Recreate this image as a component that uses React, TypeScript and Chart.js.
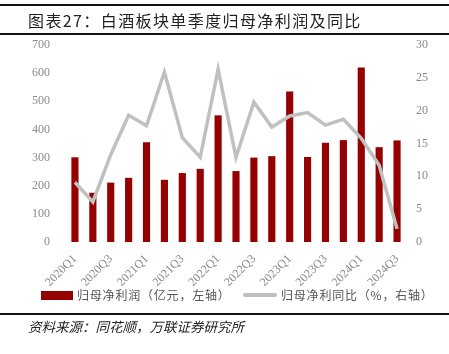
import React, { useEffect, useRef } from "react";
import { Chart, registerables } from "chart.js";

Chart.register(...registerables);

const quarters = [
  "2020Q1", "2020Q2", "2020Q3", "2020Q4",
  "2021Q1", "2021Q2", "2021Q3", "2021Q4",
  "2022Q1", "2022Q2", "2022Q3", "2022Q4",
  "2023Q1", "2023Q2", "2023Q3", "2023Q4",
  "2024Q1", "2024Q2", "2024Q3",
];
const netProfit = [301, 175, 211, 228, 354, 221, 245, 260, 450, 252, 300, 305, 535, 302, 353, 362, 620, 337, 361];
const yoyGrowth = [9.1, 6.1, 13.3, 19.3, 17.7, 25.9, 15.9, 12.9, 26.3, 12.9, 21.3, 17.5, 19.2, 19.7, 17.8, 18.7, 15.8, 11.7, 2.0];
const leftTicks = [0, 100, 200, 300, 400, 500, 600, 700];
const rightTicks = [0, 5, 10, 15, 20, 25, 30];

const titleText = "图表27：白酒板块单季度归母净利润及同比";
const barLabel = "归母净利润（亿元，左轴）";
const lineLabel = "归母净利同比（%，右轴）";
const sourceText = "资料来源：同花顺，万联证券研究所";

const BAR_COLOR = "#950000";
const LINE_COLOR = "#c0c0c0";
const TICK_COLOR = "#8a8a8a";
const TICK_FONT = { family: "'Liberation Serif', 'DejaVu Serif', serif", size: 12 };

export default function App() {
  const ref = useRef<HTMLCanvasElement | null>(null);

  useEffect(() => {
    if (!ref.current) return;
    const chart = new Chart(ref.current, {
      data: {
        labels: quarters,
        datasets: [
          {
            type: "line",
            label: lineLabel,
            data: yoyGrowth,
            yAxisID: "y1",
            borderColor: LINE_COLOR,
            borderWidth: 3.5,
            pointRadius: 0,
            tension: 0,
            order: 0,
          },
          {
            type: "bar",
            label: barLabel,
            data: netProfit,
            yAxisID: "y",
            backgroundColor: BAR_COLOR,
            barPercentage: 0.4,
            categoryPercentage: 1,
            order: 1,
          },
        ],
      },
      options: {
        animation: false,
        responsive: false,
        maintainAspectRatio: false,
        layout: { padding: { top: 45, left: 0, right: 0, bottom: 0 } },
        plugins: { legend: { display: false }, tooltip: { enabled: false } },
        scales: {
          x: {
            grid: { display: false, drawTicks: false },
            border: { display: false },
            ticks: {
              autoSkip: false,
              maxRotation: 45,
              minRotation: 45,
              padding: 10,
              color: TICK_COLOR,
              font: TICK_FONT,
              callback: (_v: any, i: number) => (i % 2 === 0 ? quarters[i] : ""),
            },
            afterFit: (s: any) => {
              s.height = 112;
            },
          },
          y: {
            position: "left",
            min: 0,
            max: 700,
            grid: { display: false, drawTicks: false },
            border: { display: false },
            afterBuildTicks: (s: any) => {
              s.ticks = leftTicks.map((v) => ({ value: v }));
            },
            ticks: { padding: 16, color: TICK_COLOR, font: TICK_FONT },
            afterFit: (s: any) => {
              s.width = 66;
            },
          },
          y1: {
            position: "right",
            min: 0,
            max: 30,
            grid: { display: false, drawTicks: false },
            border: { display: false },
            afterBuildTicks: (s: any) => {
              s.ticks = rightTicks.map((v) => ({ value: v }));
            },
            ticks: { padding: 10, color: TICK_COLOR, font: TICK_FONT },
            afterFit: (s: any) => {
              s.width = 43;
            },
          },
        },
      },
    });
    return () => chart.destroy();
  }, []);

  const cjk = "'Noto Sans CJK SC', 'Noto Sans', sans-serif";

  return (
    <div style={{ position: "absolute", left: 0, top: 0, width: 449, height: 354, background: "#fff", overflow: "hidden" }}>
      <canvas ref={ref} width={449} height={354} style={{ position: "absolute", left: 0, top: 0, width: 449, height: 354 }} />
      <div style={{ position: "absolute", left: 0, top: 4, width: 449, height: 2, background: "#111" }} />
      <div style={{ position: "absolute", left: 28, top: 8, fontFamily: cjk, fontSize: 16, color: "#222", whiteSpace: "nowrap", lineHeight: "24px", letterSpacing: 1.4 }}>
        {titleText}
      </div>
      <div style={{ position: "absolute", left: 0, top: 33, width: 449, height: 2, background: "#111" }} />

      <div style={{ position: "absolute", left: 41, top: 291, width: 32, height: 9, background: BAR_COLOR }} />
      <div style={{ position: "absolute", left: 77, top: 286, fontFamily: cjk, fontSize: 12, color: "#555", whiteSpace: "nowrap", lineHeight: "18px", letterSpacing: 0.8 }}>
        {barLabel}
      </div>
      <div style={{ position: "absolute", left: 243, top: 293, width: 34, height: 4, borderRadius: 2, background: LINE_COLOR }} />
      <div style={{ position: "absolute", left: 281, top: 286, fontFamily: cjk, fontSize: 12, color: "#555", whiteSpace: "nowrap", lineHeight: "18px", letterSpacing: 0.8 }}>
        {lineLabel}
      </div>

      <div style={{ position: "absolute", left: 0, top: 313, width: 449, height: 2, background: "#111" }} />
      <div style={{ position: "absolute", left: 28, top: 317, fontFamily: cjk, fontSize: 13.5, fontStyle: "italic", color: "#222", whiteSpace: "nowrap", lineHeight: "18px" }}>
        {sourceText}
      </div>
    </div>
  );
}
